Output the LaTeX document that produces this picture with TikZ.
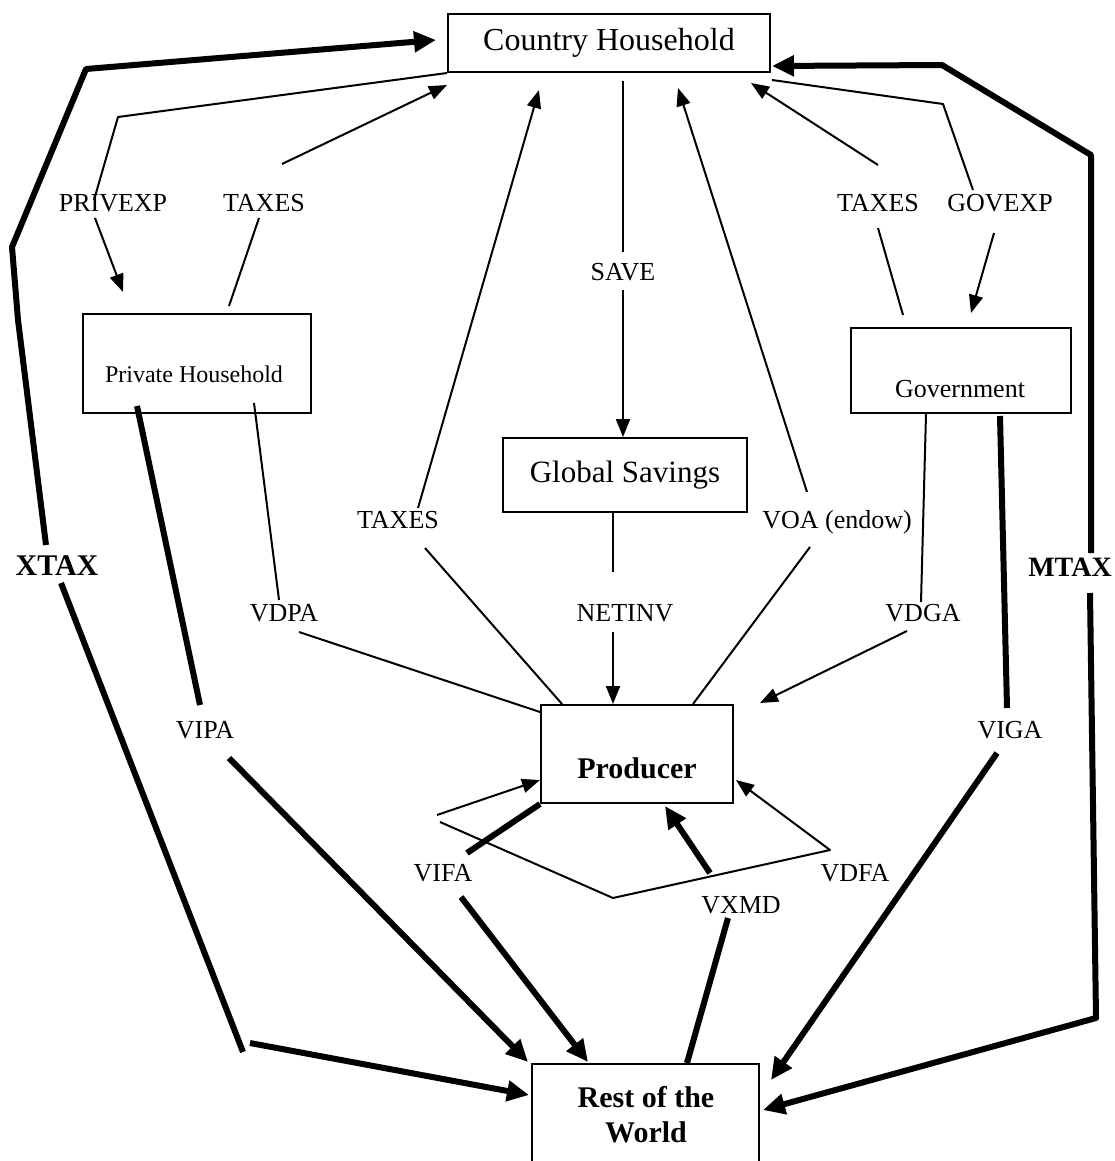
\documentclass[tikz,border=0pt]{standalone}
\usepackage{fontspec}
\setmainfont{Liberation Serif}
\usetikzlibrary{arrows.meta,calc}
\begin{document}
\begin{tikzpicture}[x=1pt,y=-1pt,
 box/.style={draw, line width=2pt, inner sep=0pt},
 lab/.style={font=\fontsize{26}{28}\selectfont, inner sep=0pt},
 blab/.style={font=\bfseries\fontsize{30}{32}\selectfont, inner sep=0pt},
 thinl/.style={line width=2pt, line join=round},
 thickl/.style={line width=6pt, line join=round},
 ta/.style={-{Triangle[length=18pt,width=14pt]}},
 Ta/.style={-{Triangle[length=22pt,width=20pt]}},
]
\useasboundingbox (0,0) rectangle (1115,1161);
\fill[white] (0,0) rectangle (1115,1161);

% boxes
\node[box, minimum width=322, minimum height=58, font=\fontsize{32}{34}\selectfont] (ch) at (609,43) {Country Household};
\node[box, minimum width=228, minimum height=99] (ph) at (197,363.5) {};
\node[font=\fontsize{24}{26}\selectfont, inner sep=0pt] (pht) at (194,374) {Private Household};
\node[box, minimum width=244, minimum height=74, font=\fontsize{31}{34}\selectfont] (gs) at (625,475) {Global Savings};
\node[box, minimum width=220, minimum height=85] (gov) at (961,370.5) {};
\node[lab] (govt) at (960,389) {Government};
\node[box, minimum width=192, minimum height=98] (pr) at (637,754) {};
\node[blab] (prt) at (637,768) {Producer};
\node[box, minimum width=227, minimum height=110, anchor=north] (row) at (645.5,1063) {};
\node[blab, align=center] (rowt) at (646,1115) {Rest of the\\[3pt]World};

% labels
\node[lab] (pe) at (113,203) {PRIVEXP};
\node[lab] (tx1) at (264,203) {TAXES};
\node[lab] (tx2) at (398,520) {TAXES};
\node[lab] (save) at (623,272) {SAVE};
\node[lab] (netinv) at (625,613) {NETINV};
\node[lab] (voa) at (837,522) {VOA (endow)};
\node[lab] (tx3) at (878,203) {TAXES};
\node[lab] (govexp) at (1000,203) {GOVEXP};
\node[lab] (vdpa) at (284,613) {VDPA};
\node[lab] (vipa) at (205,730) {VIPA};
\node[blab] (xtax) at (57,566) {XTAX};
\node[blab, font=\bfseries\fontsize{28}{30}\selectfont] (mtax) at (1070,567) {MTAX};
\node[lab] (vifa) at (443,873) {VIFA};
\node[lab] (vxmd) at (741,905) {VXMD};
\node[lab] (vdfa) at (855,873) {VDFA};
\node[lab] (vdga) at (923,613) {VDGA};
\node[lab] (viga) at (1010,730) {VIGA};

% XTAX
\draw[thickl, Ta] (46,545) -- (18,320) -- (12,247) -- (86,69) -- ($(ch.west)+(-11,-3)$);
\draw[thickl] (243,1052) -- (61,583);
\draw[thickl, Ta] (250,1043) -- ($(row.north west)+(-2,32)$);

% MTAX
\draw[thickl, Ta] (1091,553) -- (1091,155) -- (942,65) -- ($(ch.south east)+(1,-7)$);
\draw[thickl, Ta] (1090,593) -- (1096,1018) -- ($(row.north east)+(3,47)$);

% PRIVEXP
\draw[thinl] (ch.south west) -- (118,117) -- (94,200);
\draw[thinl, ta] (95,218) -- (123,292);

% TAXES left
\draw[thinl, ta] (282,164) -- ($(ch.south west)+(0,12)$);
\draw[thinl] (259,218) -- (229,306);

% TAXES middle
\draw[thinl] ($(pr.north west)+(22,0)$) -- (425,548);
\draw[thinl, ta] (418,508) -- (539,90);

% SAVE
\draw[thinl] ($(ch.south)+(14,8)$) -- (623,252);
\draw[thinl, ta] (623,290) -- ($(gs.north)+(-2,0)$);

% NETINV
\draw[thinl] ($(gs.south)+(-12,0)$) -- (613,572);
\draw[thinl, ta] (613,632) -- ($(pr.north)+(-24,0)$);

% VOA
\draw[thinl] ($(pr.north)+(56,0)$) -- (810,547);
\draw[thinl, ta] (807,492) -- (678,88);

% TAXES right
\draw[thinl] (903,315) -- (878,228);
\draw[thinl, ta] (878,165) -- (751,83);

% GOVEXP
\draw[thinl] ($(ch.south east)+(1,7)$) -- (943,104) -- (973,190);
\draw[thinl, ta] (994,233) -- (971,313);

% VDPA
\draw[thinl] (254,403) -- (279,600);
\draw[thinl] (299,632) -- ($(pr.north west)+(0,8)$);

% VIPA
\draw[thickl] (137,406) -- (200,705);
\draw[thickl, Ta] (229,758) -- (528,1062);

% VIFA
\draw[thickl] (pr.south west) -- (467,853);
\draw[thickl, Ta] (461,897) -- (588,1062);

% domestic loop / VDFA
\draw[thinl, ta] (437,815) -- ($(pr.west)+(0,26)$);
\draw[thinl, ta] (440,822) -- (613,898) -- (830,850) -- ($(pr.east)+(2,26)$);

% VXMD
\draw[thickl, Ta] (710,873) -- ($(pr.south)+(28,2)$);
\draw[thickl] (728,918) -- (687,1063);

% VDGA
\draw[thinl] ($(gov.south)+(-35,0)$) -- (921,602);
\draw[thinl, ta] (907,631) -- (760,703);

% VIGA
\draw[thickl] ($(gov.south)+(39,2)$) -- (1007,708);
\draw[thickl, Ta] (997,753) -- (771,1080);
\end{tikzpicture}
\end{document}
